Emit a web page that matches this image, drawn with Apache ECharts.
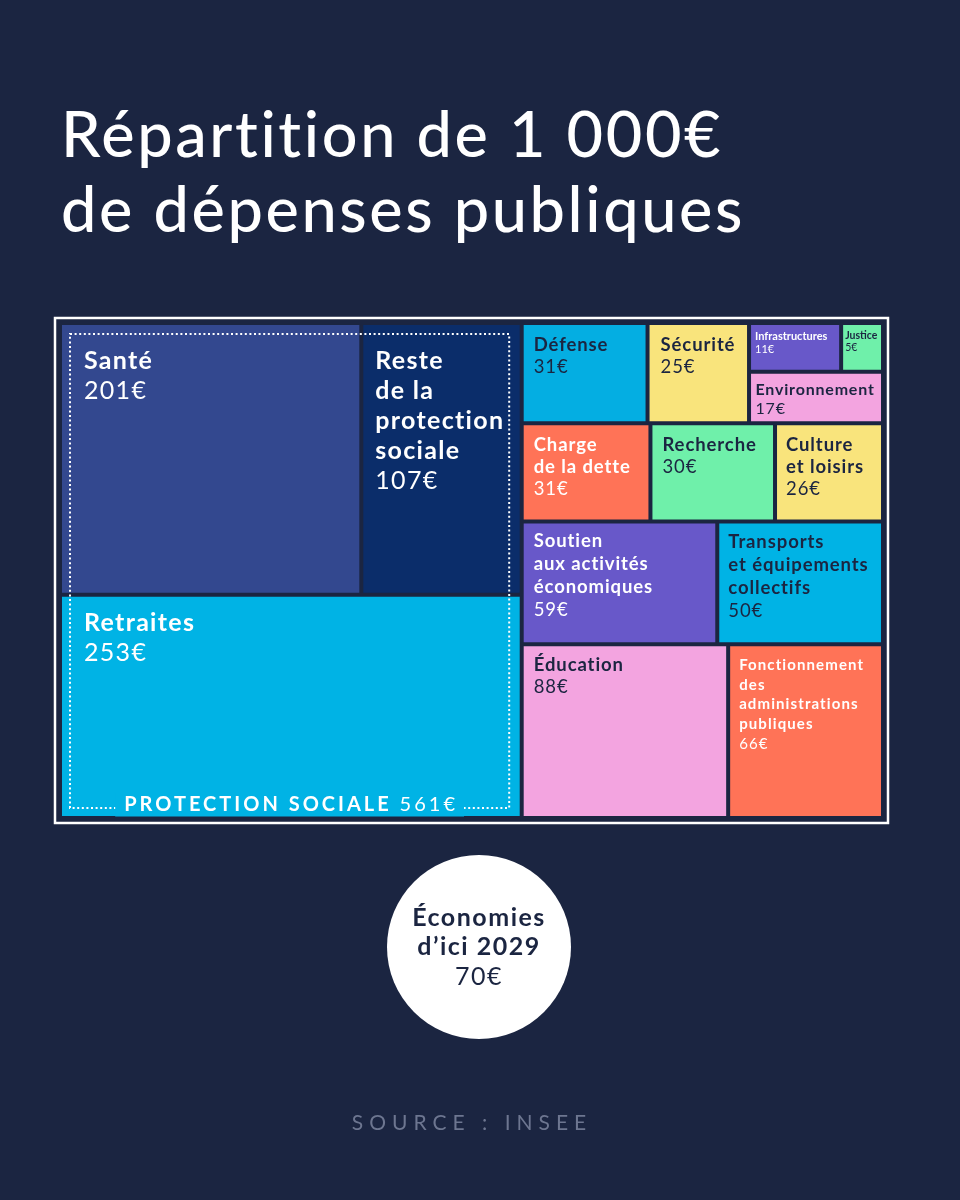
<!DOCTYPE html>
<html>
<head>
<meta charset="utf-8">
<script src="https://cdn.jsdelivr.net/npm/echarts@6/dist/echarts.min.js"></script>
<style>
html,body{margin:0;padding:0;background:#1b2541;}
#chart{width:960px;height:1200px;}
</style>
</head>
<body>
<div id="chart"></div>
<script>
// ---------------- DATA ----------------
const titleLines = ['Répartition de 1 000€', 'de dépenses publiques'];
const categories = [
  'Santé',
  'Reste\nde la\nprotection\nsociale',
  'Retraites',
  'Défense',
  'Sécurité',
  'Infrastructures',
  'Justice',
  'Environnement',
  'Charge\nde la dette',
  'Recherche',
  'Culture\net loisirs',
  'Soutien\naux activités\néconomiques',
  'Transports\net équipements\ncollectifs',
  'Éducation',
  'Fonctionnement\ndes\nadministrations\npubliques'
];
const values = [201, 107, 253, 31, 25, 11, 5, 17, 31, 30, 26, 59, 50, 88, 66];
const groupLabel = 'PROTECTION SOCIALE';
const savingsLines = ['Économies', 'd’ici 2029'];
const savingsValue = 70;
const sourceText = 'SOURCE : INSEE';
const currency = '€';

// ---------------- STYLES ----------------
const NAVY = '#1b2541';
const FONT = 'Lato';
function fam(ls) { return ls ? '"spaced-' + ls + 'px", ' + FONT : FONT; }
const TILE = [
  {fill:'#33488f', ink:'#ffffff', fs:25,   lh:30,   px:22, py:21,  ls:1.3}, // Santé
  {fill:'#0b2d6a', ink:'#ffffff', fs:25,   lh:30,   px:12, py:21,  ls:1.3}, // Reste
  {fill:'#00b3e5', ink:'#ffffff', fs:25,   lh:30,   px:22, py:11,  ls:1.3}, // Retraites
  {fill:'#04aee2', ink:NAVY,      fs:18.5, lh:22,   px:10, py:9,   ls:0.9}, // Défense
  {fill:'#f9e47c', ink:NAVY,      fs:18.5, lh:22,   px:11, py:9,   ls:0.9}, // Sécurité
  {fill:'#6858c9', ink:'#ffffff', fs:11,   lh:13,   px:4,  py:4.5, ls:0},   // Infrastructures
  {fill:'#6ff0aa', ink:NAVY,      fs:10.5, lh:11.5, px:2,  py:5,   ls:0},   // Justice
  {fill:'#f3a4e0', ink:NAVY,      fs:16,   lh:19,   px:4.5,py:7,   ls:0.8}, // Environnement
  {fill:'#ff7357', ink:'#ffffff', fs:18.5, lh:22,   px:10, py:9,   ls:0.9}, // Charge de la dette
  {fill:'#6ff0aa', ink:NAVY,      fs:18.5, lh:22,   px:10, py:9,   ls:0.9}, // Recherche
  {fill:'#f9e47c', ink:NAVY,      fs:18.5, lh:22,   px:9,  py:9,   ls:0.9}, // Culture
  {fill:'#6858c9', ink:'#ffffff', fs:18.5, lh:23,   px:10, py:6.5, ls:0.9}, // Soutien
  {fill:'#00b3e5', ink:NAVY,      fs:18.5, lh:23,   px:9,  py:7,   ls:0.9}, // Transports
  {fill:'#f3a4e0', ink:NAVY,      fs:18.5, lh:21.5, px:10, py:8,   ls:0.9}, // Éducation
  {fill:'#ff7357', ink:'#ffffff', fs:15,   lh:19.7, px:9,  py:9,   ls:1.1}  // Fonctionnement
];
const GAP = 2;

// letter-spacing support: font family marker "spaced-Npx"; every other text gets 0px
(function () {
  const P = CanvasRenderingContext2D.prototype;
  if (!('letterSpacing' in P)) return;
  const re = /spaced-(\d+(?:\.\d+)?)px/;
  ['fillText', 'strokeText', 'measureText'].forEach(function (name) {
    const orig = P[name];
    P[name] = function () {
      const m = re.exec(this.font || '');
      const want = m ? m[1] + 'px' : '0px';
      if (this.letterSpacing !== want) {
        this.letterSpacing = want;
        const f = this.font; this.font = f;
      }
      return orig.apply(this, arguments);
    };
  });
})();

// ---------------- LAYOUT (slice & dice from values) ----------------
const H = 'h', V = 'v';
const tree = {dir: H, children: [
  {dir: V, group: true, children: [{dir: H, children: [0, 1]}, 2]},
  {dir: V, children: [
    {dir: H, children: [3, 4, {dir: V, children: [{dir: H, children: [5, 6]}, 7]}]},
    {dir: H, children: [8, 9, 10]},
    {dir: H, children: [11, 12]},
    {dir: H, children: [13, 14]}
  ]}
]};
function total(n) {
  return typeof n === 'number' ? values[n] : n.children.reduce(function (s, c) { return s + total(c); }, 0);
}
const cells = [];
const groups = [];
function place(n, x0, y0, x1, y1) {
  if (typeof n === 'number') { cells.push([x0, y0, x1, y1, n, 0]); return; }
  const t = total(n);
  let acc = 0;
  n.children.forEach(function (c) {
    const f0 = acc / t; acc += total(c); const f1 = acc / t;
    if (n.dir === H) place(c, x0 + (x1 - x0) * f0, y0, x0 + (x1 - x0) * f1, y1);
    else place(c, x0, y0 + (y1 - y0) * f0, x1, y0 + (y1 - y0) * f1);
  });
  if (n.group) groups.push([x0, y0, x1, y1, t, 1]);
}
place(tree, 0, 0, 1, 1);
const seriesData = [[0, 0, 1, 1, total(tree), 2]].concat(cells, groups);

const SPACED_GROUP = fam(3);
function renderItem(params, api) {
  const a = api.coord([api.value(0), api.value(1)]);
  const b = api.coord([api.value(2), api.value(3)]);
  const idx = api.value(4), kind = api.value(5);
  const x = a[0], y = a[1], w = b[0] - a[0], h = b[1] - a[1];
  if (kind === 2) {
    return {type: 'rect', shape: {x: x - 5, y: y - 5, width: w + 10, height: h + 10},
      style: {fill: NAVY, stroke: '#ffffff', lineWidth: 2.5}};
  }
  if (kind === 1) {
    const rx0 = x + 10, ry0 = y + 11, rx1 = x + w - 12.5, ry1 = y + h - 10;
    return {type: 'group', children: [
      {type: 'rect', shape: {x: rx0, y: ry0, width: rx1 - rx0, height: ry1 - ry0},
        style: {fill: 'none', stroke: '#ffffff', lineWidth: 2, lineDash: [2, 2.6]}},
      {type: 'text', x: (rx0 + rx1) / 2, y: ry1 - 3, style: {
        text: '{a|' + groupLabel + '} {b|' + idx + currency + '}',
        align: 'center', verticalAlign: 'middle',
        fontFamily: SPACED_GROUP, fontSize: 20, fontWeight: 'bold', fill: '#ffffff',
        backgroundColor: TILE[2].fill, padding: [0, 6, 0, 9],
        rich: {
          a: {fontFamily: SPACED_GROUP, fontSize: 20, fontWeight: 'bold', fill: '#ffffff', lineHeight: 20},
          b: {fontFamily: SPACED_GROUP, fontSize: 20, fontWeight: 'normal', fill: '#ffffff', lineHeight: 20}
        }
      }}
    ]};
  }
  const s = TILE[idx];
  const f = fam(s.ls);
  const r = {x: x + GAP, y: y + GAP, width: w - 2 * GAP, height: h - 2 * GAP};
  return {type: 'group', children: [
    {type: 'rect', shape: r, style: {fill: s.fill}},
    {type: 'text', x: r.x + s.px, y: r.y + s.py, style: {
      text: '{n|' + categories[idx] + '}\n{v|' + values[idx] + currency + '}',
      align: 'left', verticalAlign: 'top',
      fontFamily: f, fontSize: s.fs, fill: s.ink,
      rich: {
        n: {fontFamily: f, fontWeight: 'bold', fontSize: s.fs, lineHeight: s.lh, fill: s.ink},
        v: {fontFamily: f, fontWeight: 'normal', fontSize: s.fs, lineHeight: s.lh, fill: s.ink}
      }
    }}
  ]};
}

const chart = echarts.init(document.getElementById('chart'), null, {renderer: 'canvas'});
chart.setOption({
  backgroundColor: NAVY,
  animation: false,
  title: [
    {text: titleLines.join('\n'), left: 56, top: 94,
      textStyle: {color: '#ffffff', fontFamily: fam(2.6), fontWeight: 500, fontSize: 63, lineHeight: 75}},
    {text: sourceText, left: 467, top: 1106, textAlign: 'center',
      textStyle: {color: '#6d7690', fontFamily: fam(6), fontWeight: 'normal', fontSize: 21, lineHeight: 24}}
  ],
  grid: {left: 60, top: 323, width: 823, height: 495},
  xAxis: {type: 'value', min: 0, max: 1, show: false},
  yAxis: {type: 'value', min: 0, max: 1, inverse: true, show: false},
  series: [
    {type: 'custom', renderItem: renderItem, data: seriesData, silent: true,
      encode: {x: [0, 2], y: [1, 3]}, clip: false},
    {type: 'pie', silent: true, center: [479, 947], radius: [0, 92],
      data: [{value: savingsValue, name: savingsLines.join(' ')}],
      itemStyle: {color: '#ffffff', borderWidth: 0},
      labelLine: {show: false},
      emphasis: {disabled: true},
      label: {show: true, position: 'center',
        formatter: savingsLines.map(function (l) { return '{n|' + l + '}'; }).join('\n') + '\n{v|' + savingsValue + currency + '}',
        rich: {
          n: {fontFamily: fam(1.5), fontWeight: 'bold', fontSize: 25, lineHeight: 29.5, color: NAVY},
          v: {fontFamily: fam(1.5), fontWeight: 'normal', fontSize: 25, lineHeight: 29.5, color: NAVY}
        }
      }
    }
  ]
});
</script>
</body>
</html>
